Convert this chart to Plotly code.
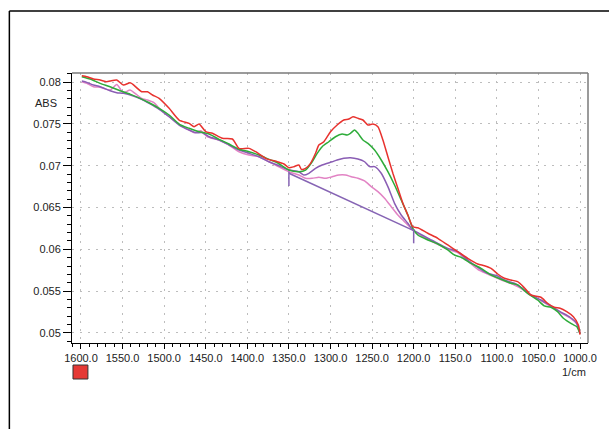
import plotly.graph_objects as go

# ---- data ----
red_wn = [1599, 1593, 1585, 1577, 1569, 1565, 1557, 1549, 1541, 1538, 1527, 1520, 1514, 1506, 1494, 1482,
          1470, 1464, 1458, 1450, 1442, 1430, 1418, 1410, 1398, 1390, 1378, 1364, 1356, 1350, 1344, 1338,
          1335, 1330, 1324, 1318, 1314, 1308, 1300, 1292, 1284, 1278, 1273, 1267, 1261, 1255, 1249, 1243,
          1237, 1231, 1225, 1219, 1213, 1207, 1201, 1195, 1183, 1171, 1159, 1147, 1135, 1123, 1115, 1107,
          1099, 1091, 1083, 1075, 1067, 1059, 1047, 1039, 1031, 1024, 1016, 1008, 1002, 1000]
red_abs = [0.08075, 0.08063, 0.08036, 0.08024, 0.08004, 0.08012, 0.08024, 0.07964, 0.07992, 0.07976,
           0.07884, 0.07884, 0.07845, 0.07805, 0.07686, 0.07546, 0.07506, 0.07466, 0.07498, 0.07406,
           0.07387, 0.07327, 0.07319, 0.07207, 0.07207, 0.07167, 0.07088, 0.07047, 0.07020, 0.06976,
           0.06988, 0.07008, 0.06956, 0.06968, 0.07028, 0.07148, 0.07247, 0.07286, 0.07406, 0.07486,
           0.07546, 0.07558, 0.07585, 0.07566, 0.07546, 0.07486, 0.07498, 0.07466, 0.07307, 0.07107,
           0.06909, 0.06729, 0.06550, 0.06410, 0.06270, 0.06257, 0.06192, 0.06132, 0.06052, 0.05972,
           0.05893, 0.05825, 0.05804, 0.05773, 0.05705, 0.05654, 0.05633, 0.05613, 0.05541, 0.05454,
           0.05427, 0.05355, 0.05307, 0.05295, 0.05255, 0.05195, 0.05096, 0.04980]

green_wn = [1599, 1589, 1577, 1565, 1553, 1541, 1529, 1518, 1506, 1494, 1482, 1470, 1458, 1446, 1434,
            1422, 1410, 1398, 1386, 1374, 1364, 1350, 1338, 1330, 1322, 1316, 1310, 1302, 1294, 1286,
            1280, 1276, 1271, 1267, 1261, 1255, 1247, 1239, 1231, 1223, 1215, 1207, 1201, 1195, 1183,
            1171, 1159, 1151, 1143, 1131, 1119, 1107, 1095, 1083, 1075, 1063, 1051, 1043, 1035, 1027,
            1020, 1010, 1004, 1000]
green_abs = [0.08063, 0.08036, 0.07984, 0.07944, 0.07896, 0.07856, 0.07805, 0.07752, 0.07686, 0.07606,
             0.07498, 0.07447, 0.07406, 0.07378, 0.07315, 0.07259, 0.07196, 0.07167, 0.07127, 0.07076,
             0.07035, 0.06948, 0.06928, 0.06948, 0.07047, 0.07148, 0.07227, 0.07286, 0.07346, 0.07378,
             0.07366, 0.07387, 0.07426, 0.07387, 0.07307, 0.07267, 0.07187, 0.07068, 0.06928, 0.06769,
             0.06590, 0.06410, 0.06251, 0.06171, 0.06112, 0.06064, 0.05992, 0.05932, 0.05905, 0.05833,
             0.05773, 0.05693, 0.05642, 0.05594, 0.05574, 0.05474, 0.05394, 0.05323, 0.05307, 0.05255,
             0.05176, 0.05108, 0.05076, 0.04990]

purple_wn = [1599, 1593, 1585, 1577, 1565, 1557, 1549, 1537, 1527, 1518, 1506, 1494, 1482, 1470, 1462,
             1454, 1446, 1434, 1422, 1410, 1398, 1386, 1374, 1364, 1350, 1338, 1332, 1326, 1318, 1310,
             1298, 1292, 1284, 1276, 1267, 1259, 1253, 1247, 1239, 1231, 1223, 1215, 1207, 1201, 1195,
             1183, 1171, 1159, 1147, 1135, 1123, 1111, 1099, 1091, 1079, 1071, 1059, 1047, 1035, 1024,
             1012, 1004, 1000]
purple_abs = [0.08012, 0.07996, 0.07964, 0.07944, 0.07896, 0.07872, 0.07865, 0.07833, 0.07793, 0.07745,
              0.07674, 0.07585, 0.07486, 0.07426, 0.07394, 0.07394, 0.07346, 0.07307, 0.07247, 0.07187,
              0.07148, 0.07107, 0.07047, 0.07008, 0.06948, 0.06928, 0.06888, 0.06909, 0.06968, 0.07008,
              0.07047, 0.07068, 0.07088, 0.07095, 0.07080, 0.07047, 0.06988, 0.06988, 0.06909, 0.06749,
              0.06550, 0.06410, 0.06311, 0.06231, 0.06199, 0.06132, 0.06072, 0.06012, 0.05972, 0.05872,
              0.05785, 0.05714, 0.05681, 0.05633, 0.05594, 0.05546, 0.05454, 0.05394, 0.05323, 0.05255,
              0.05188, 0.05116, 0.04990]

pink_wn = [1599, 1593, 1585, 1577, 1565, 1557, 1549, 1541, 1535, 1527, 1520, 1512, 1506, 1494, 1482,
           1470, 1464, 1456, 1448, 1434, 1422, 1410, 1398, 1386, 1374, 1364, 1350, 1338, 1330, 1322,
           1314, 1306, 1298, 1290, 1282, 1275, 1267, 1259, 1251, 1243, 1235, 1227, 1219, 1211, 1203,
           1195, 1183, 1171, 1159, 1147, 1135, 1123, 1111, 1099, 1091, 1079, 1071, 1059, 1047, 1035,
           1024, 1012, 1004, 1000]
pink_abs = [0.08004, 0.07984, 0.07944, 0.07937, 0.07904, 0.07972, 0.07872, 0.07904, 0.07865, 0.07805,
            0.07785, 0.07752, 0.07686, 0.07585, 0.07498, 0.07426, 0.07394, 0.07418, 0.07346, 0.07307,
            0.07247, 0.07167, 0.07127, 0.07107, 0.07047, 0.06996, 0.06928, 0.06888, 0.06849, 0.06849,
            0.06861, 0.06849, 0.06868, 0.06888, 0.06888, 0.06868, 0.06849, 0.06817, 0.06749, 0.06689,
            0.06610, 0.06510, 0.06410, 0.06330, 0.06251, 0.06187, 0.06120, 0.06060, 0.06000, 0.05960,
            0.05860, 0.05761, 0.05705, 0.05654, 0.05620, 0.05574, 0.05534, 0.05446, 0.05387, 0.05315,
            0.05247, 0.05180, 0.05110, 0.04990]

baseline_wn = [1350, 1200]
baseline_abs = [0.06909, 0.06223]
marker1_wn = [1350, 1350]
marker1_abs = [0.06930, 0.06757]
marker2_wn = [1200, 1200]
marker2_abs = [0.06240, 0.06072]

y_tickvals = [0.05, 0.055, 0.06, 0.065, 0.07, 0.075, 0.08]
y_ticktext = ["0.05", "0.055", "0.06", "0.065", "0.07", "0.075", "0.08"]

RED = "#e8322e"
GREEN = "#2eac3a"
PURPLE = "#8a5db4"
PINK = "#e283c4"
BASE = "#8664b4"

fig = go.Figure()
for wn, ab, col in [(pink_wn, pink_abs, PINK), (purple_wn, purple_abs, PURPLE),
                    (green_wn, green_abs, GREEN), (red_wn, red_abs, RED)]:
    fig.add_trace(go.Scatter(x=wn, y=ab, mode="lines",
                             line=dict(color=col, width=1.5, shape="spline", smoothing=0.6),
                             showlegend=False, hoverinfo="skip"))
for wn, ab in [(baseline_wn, baseline_abs), (marker1_wn, marker1_abs), (marker2_wn, marker2_abs)]:
    fig.add_trace(go.Scatter(x=wn, y=ab, mode="lines", line=dict(color=BASE, width=1.5),
                             showlegend=False, hoverinfo="skip"))

FONT = "Liberation Sans, Arial, sans-serif"
W, H = 609, 429
L, T = 72, 73
R = W - 591
B = H - 343
pw, ph = W - L - R, H - T - B

def px(xp):  # xp in page pixels
    return (xp - L) / pw

def py(yp):
    return (H - B - yp) / ph

GRID = "#bdbdbd"
fig.update_layout(
    width=W, height=H,
    margin=dict(l=L, r=R, t=T, b=B),
    paper_bgcolor="white", plot_bgcolor="white",
    font=dict(family=FONT, size=11, color="#222"),
    showlegend=False,
    hovermode=False,
    xaxis=dict(range=[1610.8, 990.4], tick0=1000, dtick=50, tickformat=".1f",
               showline=True, linecolor="black", linewidth=1,
               ticks="outside", ticklen=5, tickcolor="black", tickwidth=1,
               showgrid=True, gridcolor=GRID, griddash="2px,6px", gridwidth=1,
               zeroline=False,
               minor=dict(dtick=10, tick0=1000, ticks="outside", ticklen=3, tickcolor="black", showgrid=False),
               tickfont=dict(family=FONT, size=11, color="#222")),
    yaxis=dict(range=[0.0488, 0.08108], tickvals=y_tickvals, ticktext=y_ticktext,
               showline=True, linecolor="black", linewidth=1,
               ticks="outside", ticklen=8, tickcolor="black", tickwidth=1,
               showgrid=True, gridcolor=GRID, griddash="2px,6px", gridwidth=1,
               zeroline=False,
               minor=dict(dtick=0.001, tick0=0.05, ticks="outside", ticklen=4, tickcolor="black", showgrid=False),
               tickfont=dict(family=FONT, size=11, color="#222")),
    shapes=[
        # outer frame: left and top edges only
        dict(type="line", xref="paper", yref="paper", x0=px(9), x1=px(9), y0=py(440), y1=py(11),
             line=dict(color="black", width=1.5)),
        dict(type="line", xref="paper", yref="paper", x0=px(9), x1=px(640), y0=py(11), y1=py(11),
             line=dict(color="black", width=1.5)),
        # grey top and right plot border
        dict(type="line", xref="paper", yref="paper", x0=0, x1=1, y0=1, y1=1,
             line=dict(color="#7a7a7a", width=1.5)),
        dict(type="line", xref="paper", yref="paper", x0=1, x1=1, y0=0, y1=1,
             line=dict(color="#7a7a7a", width=1.5)),
        # red legend square
        dict(type="rect", xref="paper", yref="paper", x0=px(73), x1=px(88), y0=py(379), y1=py(365),
             line=dict(color="#333", width=1), fillcolor="#e53935"),
    ],
    annotations=[
        dict(text="ABS", xref="paper", yref="paper", x=px(59), y=py(103), xanchor="right", yanchor="middle",
             showarrow=False, font=dict(family=FONT, size=11, color="#222")),
        dict(text="1/cm", xref="paper", yref="paper", x=px(591), y=py(372), xanchor="right", yanchor="middle",
             showarrow=False, font=dict(family=FONT, size=11, color="#222")),
    ],
)

fig.write_html(
    "out.html",
    config={"displayModeBar": False, "staticPlot": True},
    post_script="document.documentElement.style.overflow='hidden';"
                "document.body.style.margin='0';document.body.style.overflow='hidden';",
)
